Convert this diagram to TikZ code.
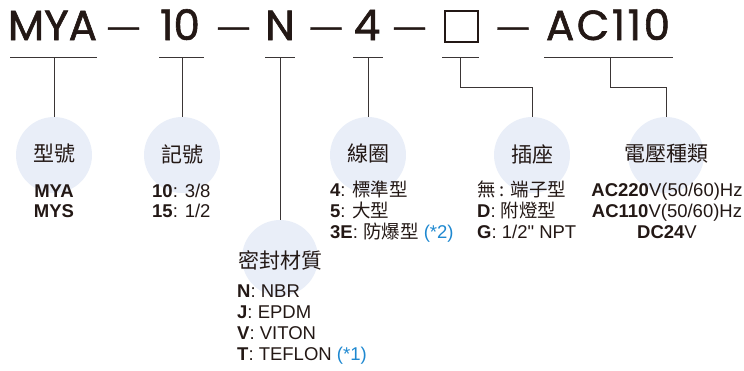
\documentclass[tikz,border=0pt]{standalone}
\usepackage{fontspec}
\setmainfont{Liberation Sans}
\newfontfamily\plainsans{Liberation Sans}
\newfontfamily\titlefont[FakeBold=1.4]{Poppins}
\newfontfamily\dashfont[FakeBold=1.2]{Liberation Sans}
\newfontfamily\cjk{Noto Sans CJK TC}
\definecolor{ink}{HTML}{231815}
\definecolor{bub}{HTML}{E9EEF8}
\definecolor{note}{HTML}{1E88D0}
\definecolor{wire}{HTML}{3A3535}
\newcommand{\listfont}{\fontsize{18.5}{21}\selectfont}
\begin{document}
\begin{tikzpicture}[x=1pt,y=-1pt,
  ttl/.style={font=\titlefont\fontsize{42}{46}\selectfont, text=ink, inner sep=0, anchor=base},
  dsh/.style={font=\dashfont\fontsize{31}{36}\selectfont, text=ink, inner sep=0, anchor=base},
  circ/.style={circle, fill=bub, minimum size=76pt, inner sep=0},
  lab/.style={font=\cjk\fontsize{21}{24}\selectfont, text=ink, inner sep=0},
  item/.style={font=\rmfamily\listfont, text=ink, inner sep=0, anchor=base west},
  itemc/.style={font=\rmfamily\listfont, text=ink, inner sep=0, anchor=base},
  wireline/.style={draw=wire, line width=1pt},
]
\useasboundingbox (0,0) rectangle (744,370);

% title
\node[ttl] (t1) at (52.5,40) {MYA};
\node[dsh] (d1) at (123.5,36.5) {—};
\node[ttl] (t2) at (180,40) {10};
\node[dsh] (d2) at (233.5,36.5) {—};
\node[ttl] (t3) at (280,40) {N};
\node[dsh] (d3) at (326,36.5) {—};
\node[ttl] (t4) at (367,40) {4};
\node[dsh] (d4) at (409.5,36.5) {—};
\node[draw=ink, line width=1.8pt, minimum width=33pt, minimum height=31pt, inner sep=0] (t5) at (461.5,26.5) {};
\node[dsh] (d5) at (513,36.5) {—};
\node[ttl, font=\titlefont\fontsize{42}{46}\selectfont\addfontfeature{LetterSpace=6}] (t6) at (608,40) {AC110};

% underlines
\coordinate (u1a) at (10,57); \coordinate (u1b) at (97,57);
\coordinate (u2a) at (159,57); \coordinate (u2b) at (204,57);
\coordinate (u3a) at (265,57); \coordinate (u3b) at (295,57);
\coordinate (u4a) at (353,57); \coordinate (u4b) at (383,57);
\coordinate (u5a) at (442,57); \coordinate (u5b) at (479,57);
\coordinate (u6a) at (544,57); \coordinate (u6b) at (673,57);
\foreach \i in {1,...,6} {\draw[wireline] (u\i a) -- (u\i b);}

\coordinate (v1) at (54,57);
\coordinate (v2) at (182,57);
\coordinate (v3) at (280,57);
\coordinate (v4) at (368,57);
\coordinate (v5) at (460,57);
\coordinate (v6) at (610,57);

% circles
\node[circ] (c1) at (54,155) {};
\node[circ] (c2) at (182,155) {};
\node[circ] (c3) at (280,258) {};
\node[circ] (c4) at (368,155) {};
\node[circ] (c5) at (532,155) {};
\node[circ] (c6) at (666,155) {};

% connectors
\draw[wireline] (v1) -- (c1.north);
\draw[wireline] (v2) -- (c2.north);
\draw[wireline] (v3) -- (c3.north);
\draw[wireline] (v4) -- (c4.north);
\draw[wireline] (v5) -- ++(0,30) -| (c5.north);
\draw[wireline] (v6) -- ++(0,30) -| (c6.north);

% circle labels
\node[lab] (l1) at (54,154) {型號};
\node[lab] (l2) at (182,154) {記號};
\node[lab] (l3) at (280,260) {密封材質};
\node[lab] (l4) at (368,154) {線圈};
\node[lab] (l5) at (532,154) {插座};
\node[lab] (l6) at (666,154) {電壓種類};

% lists
\node[itemc] (a1) at (54,197) {\bfseries MYA};
\node[itemc] (a2) at (54,217) {\bfseries MYS};

\node[item] (b1) at (152,197) {\textbf{10}: 3/8};
\node[item] (b2) at (152,217) {\textbf{15}: 1/2};

\node[item] (e1) at (237,297) {\textbf{N}: NBR};
\node[item] (e2) at (237,318) {\textbf{J}: EPDM};
\node[item] (e3) at (237,339) {\textbf{V}: VITON};
\node[item] (e4) at (237,360) {\textbf{T}: TEFLON \textcolor{note}{(*1)}};

\node[item] (f1) at (330,196) {\textbf{4}: {\cjk 標準型}};
\node[item] (f2) at (330,217) {\textbf{5}: {\cjk 大型}};
\node[item] (f3) at (330,238) {\textbf{3E}: {\cjk 防爆型} \textcolor{note}{(*2)}};

\node[item] (g1) at (477,196) {{\cjk 無 : 端子型}};
\node[item] (g2) at (477,217) {\textbf{D}: {\cjk 附燈型}};
\node[item] (g3) at (477,238) {\textbf{G}: 1/2{\plainsans "} NPT};

\node[itemc] (h1) at (667,196) {\textbf{AC220}V(50/60)Hz};
\node[itemc] (h2) at (667,217) {\textbf{AC110}V(50/60)Hz};
\node[itemc] (h3) at (667,238) {\textbf{DC24}V};
\end{tikzpicture}
\end{document}
